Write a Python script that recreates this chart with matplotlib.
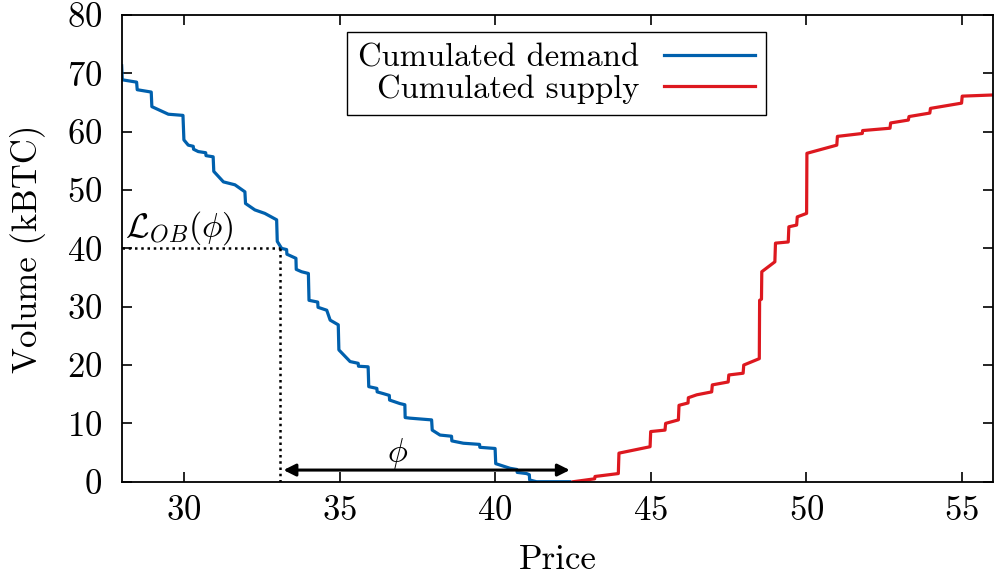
import numpy as np
import matplotlib
matplotlib.use("Agg")
import matplotlib.pyplot as plt

plt.rcParams['font.family'] = ['cmr10', 'DejaVu Serif']
plt.rcParams['mathtext.fontset'] = 'cm'
plt.rcParams['axes.formatter.use_mathtext'] = True

# cumulated demand (price, kBTC)
demand_price = [28.0, 28.02, 28.48, 28.5, 28.95, 28.97, 29.5, 29.97, 30.0, 30.14,
                30.3, 30.31, 30.46, 30.7, 30.71, 30.94, 30.96, 31.27, 31.64, 31.96,
                31.98, 32.28, 32.6, 32.98, 33.0, 33.14, 33.3, 33.31, 33.6, 33.61,
                33.78, 34.0, 34.02, 34.3, 34.31, 34.59, 34.7, 34.96, 34.98, 35.34,
                35.6, 35.61, 35.92, 35.94, 36.2, 36.21, 36.41, 36.6, 36.61, 36.94,
                37.1, 37.11, 37.26, 37.96, 37.98, 38.23, 38.6, 38.61, 38.98, 39.5,
                39.51, 40.0, 40.02, 40.48, 40.7, 40.71, 41.01, 41.1, 41.11, 41.33,
                42.4]
demand_vol = [71.3, 68.9, 68.5, 67.2, 66.8, 64.3, 63.0, 62.8, 58.6, 57.7,
              57.5, 57.0, 56.6, 56.4, 55.9, 55.7, 53.2, 51.4, 50.9, 49.7,
              47.7, 46.6, 46.0, 44.9, 41.2, 40.0, 39.8, 39.0, 38.3, 36.4,
              36.0, 35.7, 31.1, 30.8, 29.9, 29.4, 27.7, 26.9, 22.6, 20.6,
              20.3, 19.8, 19.7, 16.3, 16.0, 15.4, 15.1, 14.8, 14.0, 13.4,
              13.2, 11.0, 10.9, 10.6, 8.85, 8.0, 7.8, 7.0, 6.6, 6.4,
              5.9, 5.7, 3.1, 2.3, 2.1, 1.6, 1.4, 1.2, 0.3, 0.0,
              0.0]

# cumulated supply (price, kBTC)
supply_price = [42.51, 43.2, 43.21, 43.96, 43.98, 44.98, 45.0, 45.46, 45.48, 45.89,
                45.91, 46.2, 46.21, 46.48, 46.96, 46.98, 47.49, 47.51, 47.97, 47.99,
                48.49, 48.5, 48.56, 48.57, 48.99, 49.01, 49.42, 49.44, 49.69, 49.71,
                50.01, 50.02, 50.98, 51.0, 51.8, 51.81, 52.69, 52.71, 53.28, 53.3,
                53.97, 53.99, 54.99, 55.01, 56.0]
supply_vol = [0.0, 0.5, 0.9, 1.4, 4.9, 6.0, 8.6, 8.85, 10.0, 10.6,
              13.1, 13.5, 14.4, 14.9, 15.4, 16.6, 17.1, 18.3, 18.6, 20.0,
              21.1, 31.1, 31.3, 36.0, 37.7, 40.9, 41.1, 43.7, 44.0, 45.4,
              46.0, 56.3, 57.7, 59.2, 59.7, 60.2, 60.6, 61.5, 62.0, 62.6,
              63.2, 64.0, 64.9, 66.1, 66.3]

phi_left = 33.1
phi_right = 42.4
liq_level = 40

fig = plt.figure(figsize=(9.94, 5.79), dpi=100)
ax = fig.add_axes([0.1224, 0.168, 0.8766, 0.806])

ax.plot(demand_price, demand_vol, color='#0060ad', lw=2.3, label='Cumulated demand')
ax.plot(supply_price, supply_vol, color='#dd181f', lw=2.3, label='Cumulated supply')

# liquidity guides
ax.plot([28, phi_left], [liq_level, liq_level], color='black', lw=1.8, linestyle=(0, (1, 1.5)))
ax.plot([phi_left, phi_left], [0, liq_level], color='black', lw=1.8, linestyle=(0, (1, 1.5)))
ax.text(28.1, 42.0, r'$\mathcal{L}_{OB}(\phi)$', fontsize=24.5)

ax.annotate('', xy=(phi_left + 0.1, 2.0), xytext=(phi_right, 2.0),
            arrowprops=dict(arrowstyle='<|-|>', color='black', lw=2.2,
                            mutation_scale=18, shrinkA=0, shrinkB=0))
ax.text(36.85, 3.4, r'$\phi$', fontsize=24, ha='center')

ax.set_xlim(28, 56)
ax.set_ylim(0, 80)
ax.set_xticks([30, 35, 40, 45, 50, 55])
ax.set_yticks(np.arange(0, 81, 10))
ax.tick_params(direction='in', top=True, right=True, length=7, width=1.2,
               labelsize=25)
ax.tick_params(axis='x', pad=10)
ax.tick_params(axis='y', pad=14)
for s in ax.spines.values():
    s.set_linewidth(1.3)

ax.set_xlabel('Price', fontsize=25, labelpad=12)
ax.set_ylabel('Volume (kBTC)', fontsize=25, labelpad=15)

leg = ax.legend(loc='upper center', bbox_to_anchor=(0.499, 0.964), markerfirst=False,
                fontsize=23.5, fancybox=False, framealpha=1, edgecolor='black',
                handlelength=2.8, borderpad=0.35, labelspacing=0.05, handletextpad=0.75,
                borderaxespad=0)
leg.get_frame().set_linewidth(1.0)
for t in leg.get_texts():
    t.set_ha('right')

fig.savefig('out.png', dpi=100)
